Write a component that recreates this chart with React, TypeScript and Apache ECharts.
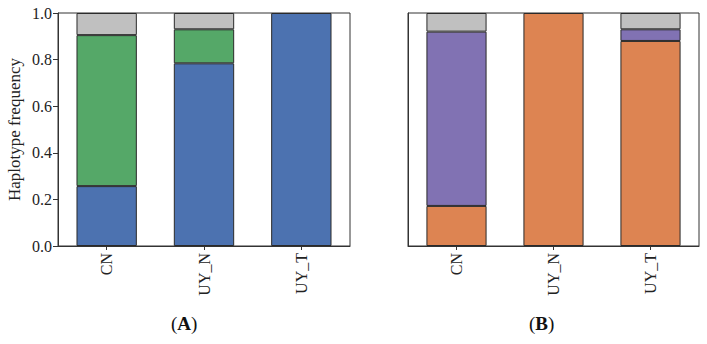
import React, { useEffect, useRef } from "react";
import * as echarts from "echarts";

const categories = ["CN", "UY_N", "UY_T"];
// Panel A
const aBlue = [0.257, 0.784, 1.0];
const aGreen = [0.648, 0.146, 0.0];
const aGrey = [0.095, 0.07, 0.0];
// Panel B
const bOrange = [0.172, 1.0, 0.88];
const bPurple = [0.748, 0.0, 0.05];
const bGrey = [0.08, 0.0, 0.07];

const BLUE = "#4C72B0";
const GREEN = "#55A868";
const ORANGE = "#DD8452";
const PURPLE = "#8172B3";
const GREY = "#C0C0C0";
const FONT = "Liberation Serif";

export default function App() {
  const ref = useRef<HTMLDivElement>(null);
  useEffect(() => {
    document.body.style.margin = "0";
    const chart = echarts.init(ref.current!, null, { renderer: "svg" });
    const gridCommon = {
      show: true,
      borderColor: "#333",
      borderWidth: 1,
      backgroundColor: "#fff",
      top: 13,
      height: 233,
    };
    const xAxisCommon = (gi: number) => ({
      type: "category",
      gridIndex: gi,
      data: categories,
      axisLine: { show: true, lineStyle: { color: "#333", width: 1 } },
      axisTick: { show: true, alignWithLabel: true, length: 4, lineStyle: { color: "#333" } },
      axisLabel: {
        rotate: 90,
        fontFamily: FONT,
        fontSize: 16,
        color: "#222",
        margin: 7,
      },
    });
    const yAxisCommon = (gi: number, showLabels: boolean) => ({
      type: "value",
      gridIndex: gi,
      min: 0,
      max: 1,
      interval: 0.2,
      splitLine: { show: false },
      axisLine: { show: true, lineStyle: { color: "#333", width: 1 } },
      axisTick: { show: showLabels, length: 5, lineStyle: { color: "#333" } },
      axisLabel: {
        show: showLabels,
        fontFamily: FONT,
        fontSize: 16,
        color: "#222",
        margin: 6,
        formatter: (v: number) => v.toFixed(1),
      },
    });
    const bar = (name: string, data: number[], color: string, gi: number, stack: string) => ({
      type: "bar",
      name,
      data: data.map((v) => (v === 0 ? null : v)),
      stack,
      xAxisIndex: gi,
      yAxisIndex: gi,
      barWidth: "62%",
      itemStyle: { color, borderColor: "#2a2a2a", borderWidth: 1 },
    });
    const panelLabel = (letter: string, x: number) => ({
      type: "text",
      left: x,
      top: 314,
      style: {
        text: "({b|" + letter + "})",
        fontFamily: FONT,
        fontSize: 19,
        fill: "#111",
        rich: { b: { fontFamily: FONT, fontSize: 19, fontWeight: "bold", fill: "#111" } },
      },
    });
    chart.setOption({
      animation: false,
      backgroundColor: "#fff",
      grid: [
        { ...gridCommon, left: 58, width: 292 },
        { ...gridCommon, left: 408, width: 291 },
      ],
      xAxis: [xAxisCommon(0), xAxisCommon(1)],
      yAxis: [
        {
          ...yAxisCommon(0, true),
          name: "Haplotype frequency",
          nameLocation: "middle",
          nameGap: 35,
          nameTextStyle: { fontFamily: FONT, fontSize: 17, color: "#222" },
        },
        yAxisCommon(1, false),
      ],
      series: [
        bar("A1", aBlue, BLUE, 0, "a"),
        bar("A2", aGreen, GREEN, 0, "a"),
        bar("A3", aGrey, GREY, 0, "a"),
        bar("B1", bOrange, ORANGE, 1, "b"),
        bar("B2", bPurple, PURPLE, 1, "b"),
        bar("B3", bGrey, GREY, 1, "b"),
      ],
      graphic: [panelLabel("A", 171), panelLabel("B", 529)],
    });
    return () => chart.dispose();
  }, []);
  return <div ref={ref} style={{ width: 707, height: 344, position: "absolute", left: 0, top: 0 }} />;
}
